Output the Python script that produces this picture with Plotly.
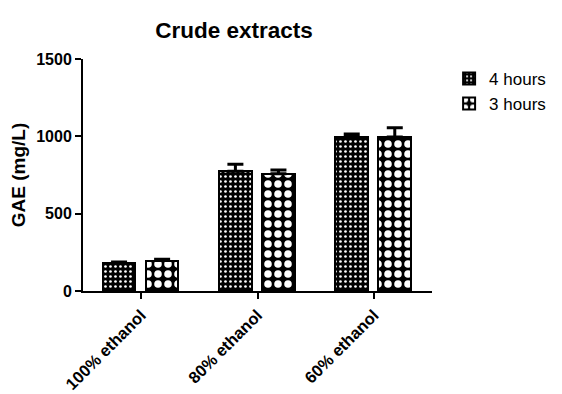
import plotly.graph_objects as go

categories = ["100% ethanol", "80% ethanol", "60% ethanol"]
hours4 = [178, 775, 995]
hours4_err = [10, 45, 20]
hours3 = [197, 758, 995]
hours3_err = [8, 25, 60]
y_ticks = [0, 500, 1000, 1500]

FONT = "Arial, Liberation Sans, sans-serif"

fig = go.Figure()
fig.add_trace(go.Bar(
    name="4 hours", x=categories, y=hours4,
    width=0.28, offset=-0.33,
    marker=dict(color="black", line=dict(color="black", width=2),
                pattern=dict(shape=".", fgcolor="white", bgcolor="black",
                             size=5, solidity=0.22, fillmode="replace")),
    error_y=dict(type="data", array=hours4_err, arrayminus=[0, 0, 0], symmetric=False,
                 color="black", thickness=3, width=8),
))
fig.add_trace(go.Bar(
    name="3 hours", x=categories, y=hours3,
    width=0.28, offset=0.04,
    marker=dict(color="black", line=dict(color="black", width=2),
                pattern=dict(shape=".", fgcolor="white", bgcolor="black",
                             size=10, solidity=0.45, fillmode="replace")),
    error_y=dict(type="data", array=hours3_err, arrayminus=[0, 0, 0], symmetric=False,
                 color="black", thickness=3, width=8),
))

fig.update_layout(
    width=554, height=386,
    margin=dict(l=75, r=129, t=51, b=103),
    paper_bgcolor="white", plot_bgcolor="white",
    font=dict(family=FONT, color="black", size=16),
    title=dict(text="<b>Crude extracts</b>", x=226/554, xref="container", xanchor="center",
               y=1-22/386, yref="container", yanchor="middle",
               font=dict(size=22.5, family=FONT, color="black")),
    showlegend=True,
    legend=dict(x=1.046, y=0.992, xanchor="left", yanchor="top",
                font=dict(size=17, family=FONT), bgcolor="rgba(0,0,0,0)",
                itemsizing="constant", tracegroupgap=0),
    bargap=0, barmode="group",
)
fig.update_xaxes(
    type="category", range=[-0.5, 2.5], automargin=False,
    showline=True, linecolor="black", linewidth=2,
    ticks="outside", ticklen=6, tickwidth=2, tickcolor="black",
    tickangle=-45, tickfont=dict(size=16.5, family=FONT),
    ticktext=["<b>%s</b>" % c for c in categories], tickvals=categories,
    showgrid=False, zeroline=False,
)
fig.update_yaxes(
    range=[0, 1500], tickvals=y_ticks, ticktext=["<b>%d</b>" % v for v in y_ticks],
    automargin=False,
    showline=True, linecolor="black", linewidth=2,
    ticks="outside", ticklen=6, tickwidth=2, tickcolor="black",
    tickfont=dict(size=16, family=FONT),
    title=dict(text="<b>GAE (mg/L)</b>", font=dict(size=19, family=FONT), standoff=10),
    showgrid=False, zeroline=False,
)

fig.write_html("out.html")
